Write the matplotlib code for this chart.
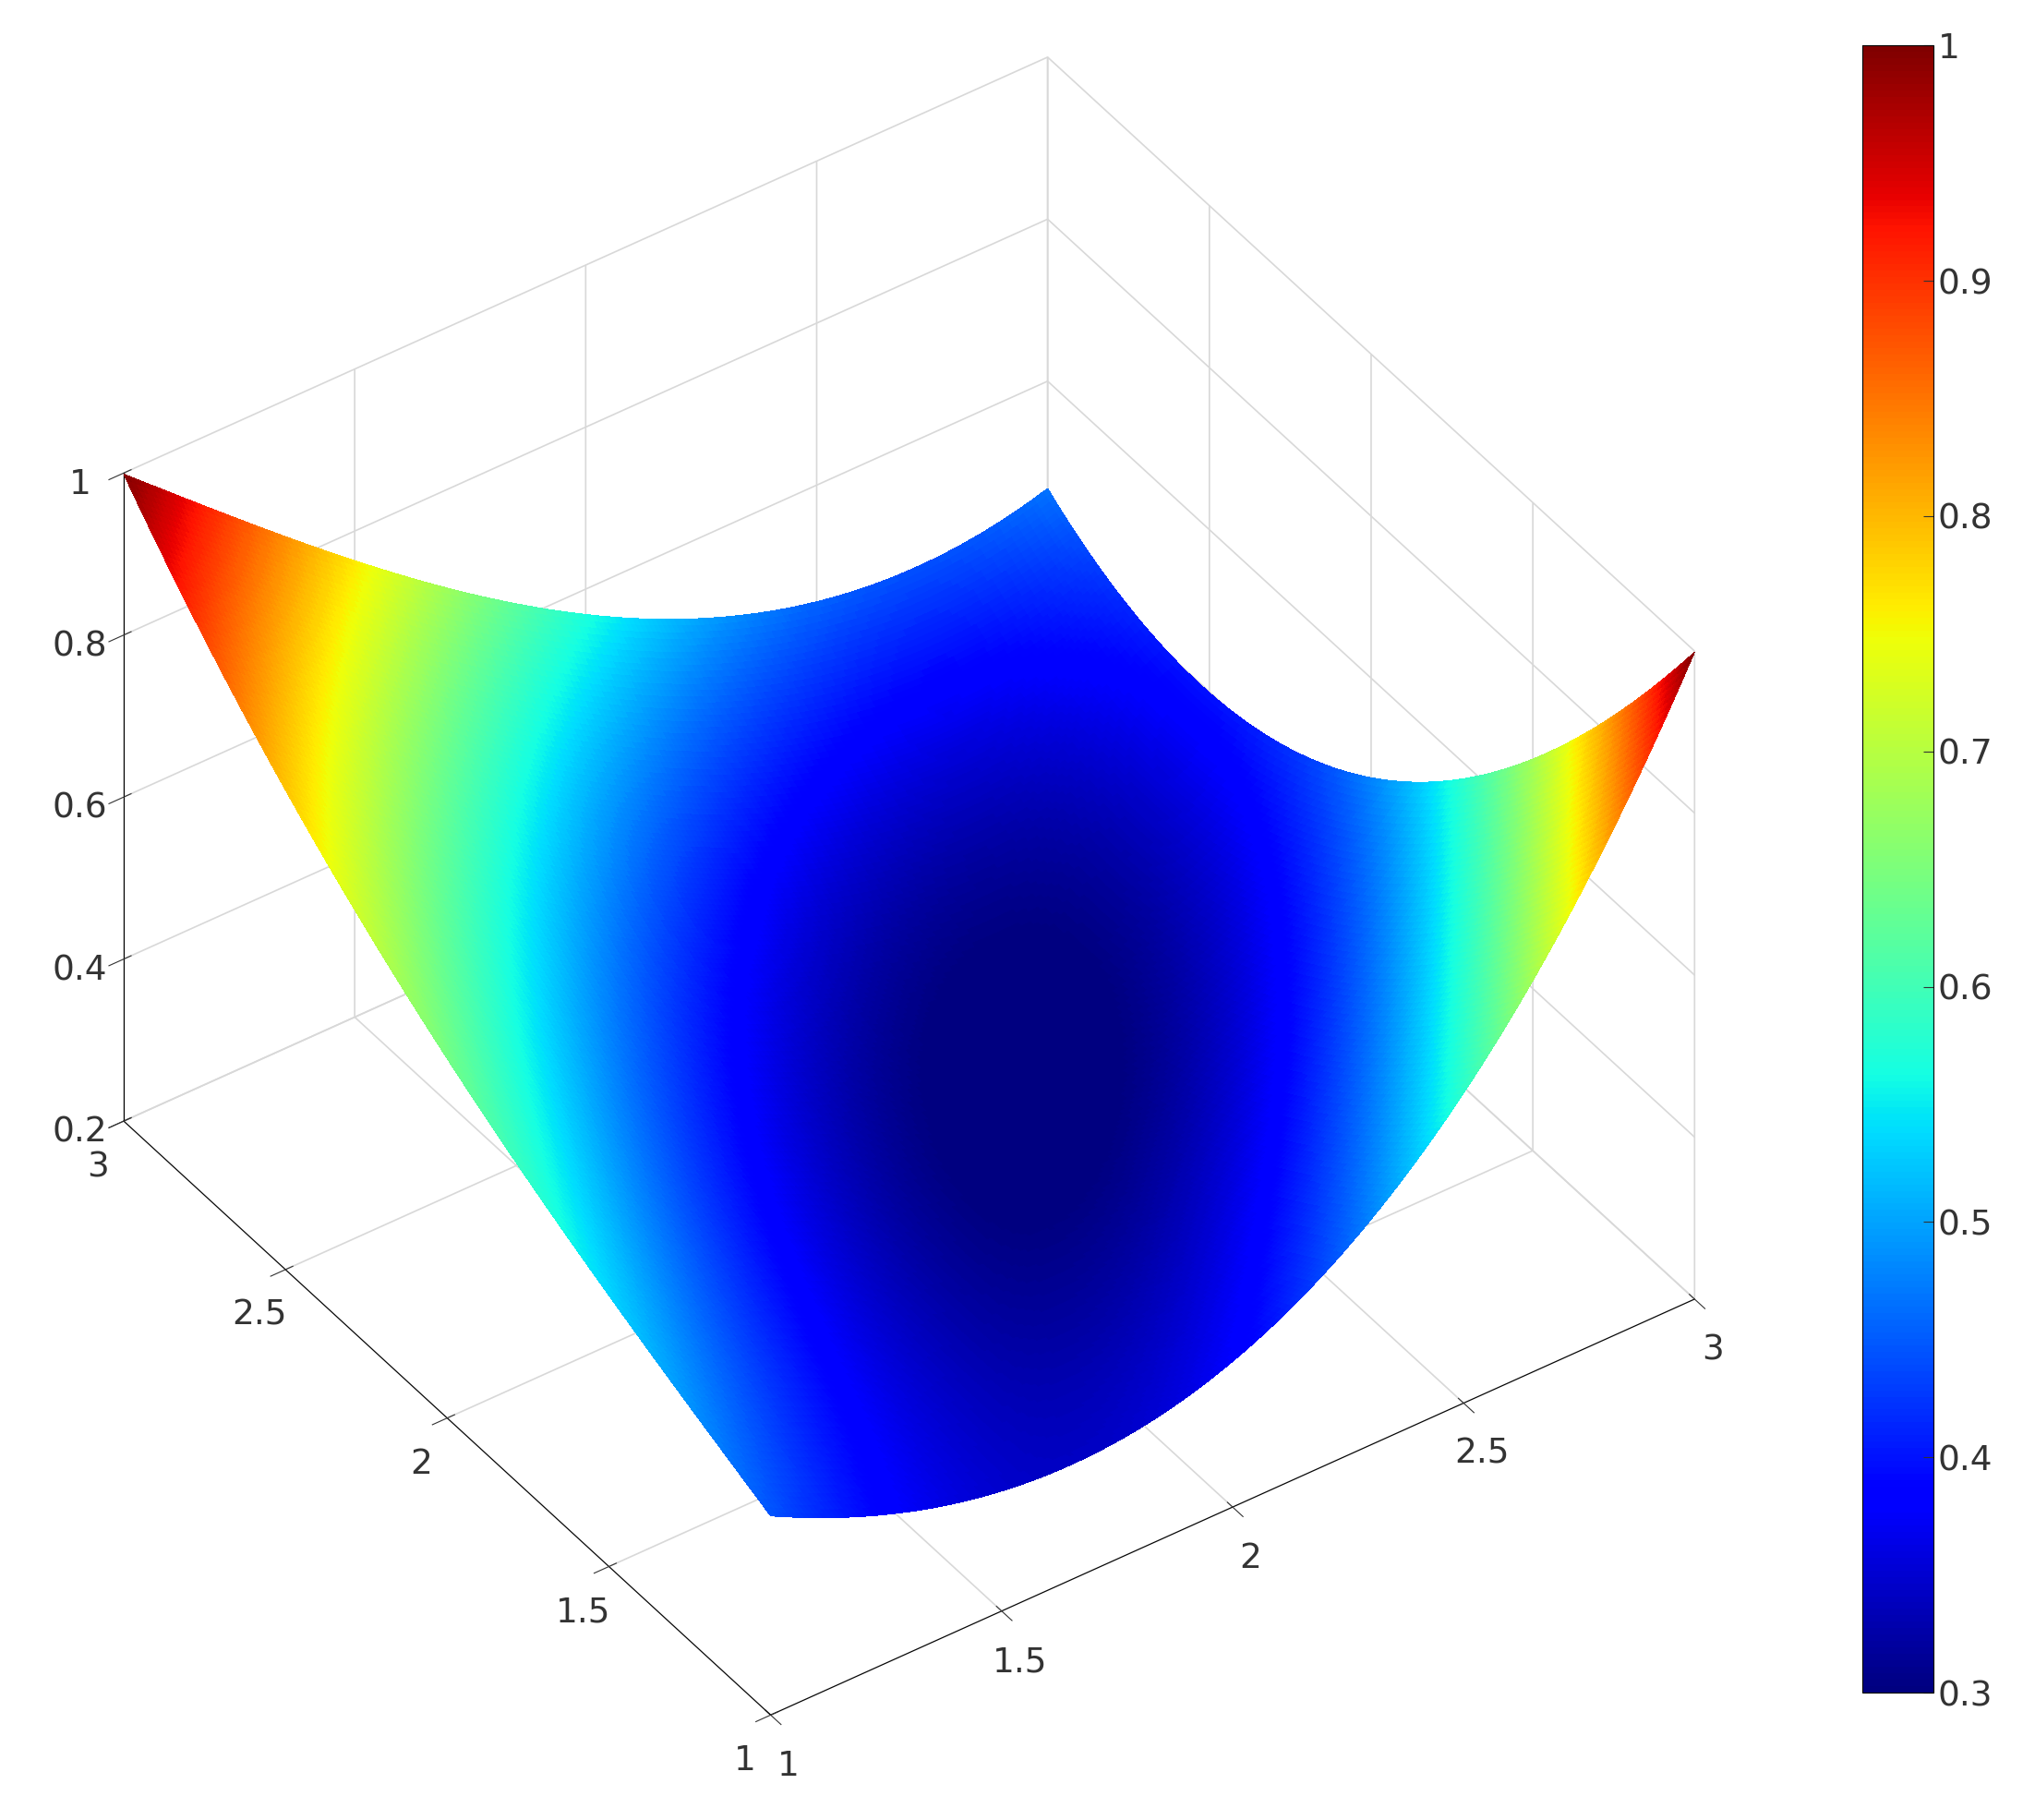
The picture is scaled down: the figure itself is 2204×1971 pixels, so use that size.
import numpy as np
import matplotlib
matplotlib.use("Agg")
import matplotlib.pyplot as plt
from matplotlib import cm, colors

# values (x, y, z)
read_x = [1, 3, 3, 1, 2, 1.5, 2, 3, 1, 2, 2.5, 1.5, 2.5, 1, 2.5, 3, 1, 2]
read_y = [3, 1, 3, 1, 2, 1.2, 3, 2, 2, 1, 1.5, 2.5, 1, 2.5, 3, 2.5, 1.5, 1.25]
read_z = [1.0, 1.0, 0.47, 0.45, 0.47, 0.33, 0.5, 0.40, 0.62, 0.36, 0.41, 0.55,
          0.55, 0.75, 0.45, 0.40, 0.52, 0.31]
read_w = [6, 6, 4, 3, 1, 1, 1, 1, 1, 1, 1, 1, 1, 1, 1, 1, 1, 1]
xticks = [1, 1.5, 2, 2.5, 3]
yticks = [1, 1.5, 2, 2.5, 3]
zticks = [0.2, 0.4, 0.6, 0.8, 1]
cticks = [0.3, 0.4, 0.5, 0.6, 0.7, 0.8, 0.9, 1]
clabels = ["0.3", "0.4", "0.5", "0.6", "0.7", "0.8", "0.9", "1"]


def basis(x, y):
    return np.column_stack([np.ones_like(x), x, y, x**2, y**2, x*y,
                            x**3, y**3, x**2*y, x*y**2])


rx, ry, rz, rw = map(lambda a: np.asarray(a, float), (read_x, read_y, read_z, read_w))
coef, *_ = np.linalg.lstsq(basis(rx, ry) * rw[:, None], rz * rw, rcond=None)

g = np.linspace(1, 3, 201)
X, Y = np.meshgrid(g, g)
Z = (basis(X.ravel(), Y.ravel()) @ coef).reshape(X.shape)

fig = plt.figure(figsize=(22.04, 19.71), dpi=100)
ax = fig.add_axes([0.0, 0.0, 0.87, 1.0], projection='3d')
norm = colors.Normalize(0.3, 1.0)
ax.plot_surface(X, Y, Z, cmap='jet', norm=norm, rstride=1, cstride=1,
                linewidth=0, antialiased=False, shade=False)
ax.set_proj_type('ortho')
ax.view_init(elev=40, azim=-125)
ax.set_xlim(1, 3); ax.set_ylim(1, 3); ax.set_zlim(0.2, 1)
ax.set_xticks(xticks); ax.set_xticklabels(["1", "1.5", "2", "2.5", "3"])
ax.set_yticks(yticks); ax.set_yticklabels(["1", "1.5", "2", "2.5", "3"])
ax.set_zticks(zticks); ax.set_zticklabels(["0.2", "0.4", "0.6", "0.8", "1"])
for a in (ax.xaxis, ax.yaxis, ax.zaxis):
    a.set_pane_color((1, 1, 1, 0))
    a._axinfo['grid'].update(color='#d8d8d8', linewidth=1.2)
    a.line.set_color('black')
ax.tick_params(labelsize=27, colors='#333333', pad=12)
ax.set_box_aspect((1, 1, 0.75), zoom=0.99)

cax = fig.add_axes([0.915, 0.07, 0.035, 0.905])
cb = fig.colorbar(cm.ScalarMappable(norm=norm, cmap='jet'), cax=cax, ticks=cticks)
cb.ax.set_yticklabels(clabels)
cb.ax.tick_params(labelsize=27, colors='#333333', direction='in', length=8)
fig.savefig("out.png", dpi=100)
